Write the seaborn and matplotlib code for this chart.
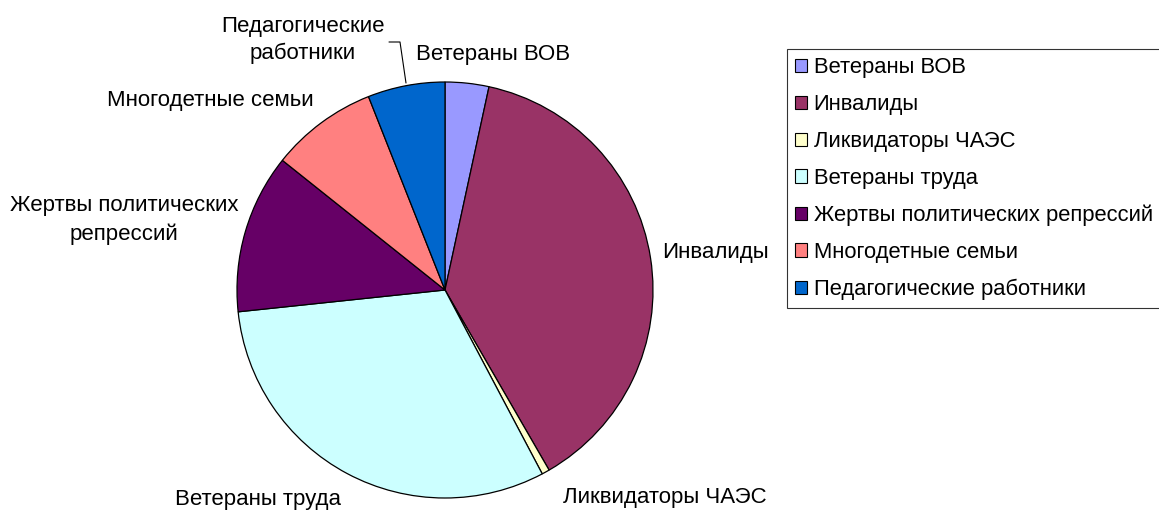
import matplotlib
matplotlib.use("Agg")
import matplotlib.pyplot as plt
from matplotlib.patches import Patch
import seaborn as sns

categories = ["Ветераны ВОВ", "Инвалиды", "Ликвидаторы ЧАЭС", "Ветераны труда",
              "Жертвы политических репрессий", "Многодетные семьи", "Педагогические работники"]
values = [3.4, 38.3, 0.6, 31.1, 12.4, 8.3, 6.0]
colors = ["#9999FF", "#993366", "#FFFFCC", "#CCFFFF", "#660066", "#FF8080", "#0066CC"]
slice_labels = ["Ветераны ВОВ", "Инвалиды", "Ликвидаторы ЧАЭС", "Ветераны труда",
                "Жертвы политических\nрепрессий", "Многодетные семьи", "Педагогические\nработники"]

sns.set_theme(style="white")
plt.rcParams['font.family'] = ['Liberation Sans', 'DejaVu Sans']
plt.rcParams['text.color'] = 'black'

W, H = 1159, 511
fig = plt.figure(figsize=(W / 100, H / 100), dpi=100)
ax = fig.add_axes([0, 0, 1, 1])

fs = 16
cx, cy, r = 445, H - 290, 208
ax.pie(values, colors=colors, startangle=90, counterclock=False,
       center=(cx, cy), radius=r, frame=True,
       wedgeprops=dict(edgecolor='black', linewidth=0.9))
ax.set_xlim(0, W)
ax.set_ylim(0, H)
ax.set_aspect('equal')
ax.axis('off')

label_pos = [(493, 54), (715, 252), (665, 497), (258, 500), (124, 220), (210, 100), (303, 40)]
for lab, (x, y) in zip(slice_labels, label_pos):
    ax.text(x, H - y, lab, ha='center', va='center', fontsize=fs, color='black',
            linespacing=1.4)

# leader line for the small top-left label
ax.plot([389, 400, 406], [H - 42, H - 42, H - 83], color='black', linewidth=0.8)

handles = [Patch(facecolor=c, edgecolor='black', linewidth=0.8) for c in colors]
leg = fig.legend(handles, categories, loc='upper left',
                 bbox_to_anchor=(787 / W, 1 - 49 / H), fontsize=15.8,
                 frameon=True, fancybox=False, shadow=False,
                 handlelength=0.55, handleheight=0.55, handletextpad=0.28,
                 labelspacing=0.72, borderpad=0.38, borderaxespad=0)
leg.get_frame().set_edgecolor('black')
leg.get_frame().set_linewidth(0.8)
for t in leg.get_texts():
    t.set_color('black')

fig.savefig("out.png", dpi=100, facecolor='white')
